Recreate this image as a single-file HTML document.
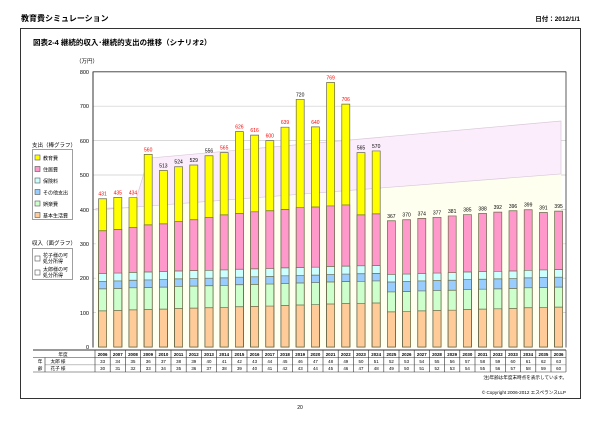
<!DOCTYPE html>
<html><head><meta charset="utf-8"><style>
html,body{margin:0;padding:0;background:#fff}
svg{display:block}
text{font-family:"Liberation Sans","Noto Sans CJK JP",sans-serif;fill:#000}
.b rect{vector-effect:non-scaling-stroke;stroke:#6b6b4a;stroke-width:0.7}
</style></head><body>
<svg width="600" height="424" viewBox="0 0 600 424" xmlns="http://www.w3.org/2000/svg">
<rect width="600" height="424" fill="#fff"/>
<text x="21" y="21" font-size="8" font-weight="bold">教育費シミュレーション</text>
<text x="580" y="21" font-size="6.5" text-anchor="end" font-weight="bold">日付：2012/1/1</text>
<rect x="20.5" y="28.5" width="560" height="370" fill="none" stroke="#333" stroke-width="1"/>
<text x="33" y="45" font-size="7.5" font-weight="bold">図表2-4  継続的収入･継続的支出の推移（シナリオ2）</text>
<text x="76" y="63" font-size="5.5">（万円）</text>
<g font-size="5.5" text-anchor="end">
<text x="89" y="74">800</text><text x="89" y="108">700</text><text x="89" y="143">600</text>
<text x="89" y="177">500</text><text x="89" y="212">400</text><text x="89" y="246">300</text>
<text x="89" y="280">200</text><text x="89" y="315">100</text><text x="89" y="349">0</text>
</g>
<g stroke="#ccc" stroke-width="0.7">
<line x1="93" x2="566" y1="106.2" y2="106.2"/><line x1="93" x2="566" y1="140.6" y2="140.6"/>
<line x1="93" x2="566" y1="175" y2="175"/><line x1="93" x2="566" y1="209.4" y2="209.4"/>
<line x1="93" x2="566" y1="243.8" y2="243.8"/><line x1="93" x2="566" y1="278.2" y2="278.2"/>
<line x1="93" x2="566" y1="312.6" y2="312.6"/>
</g>
<g transform="translate(0,347) scale(1,-0.344)">
<polygon points="96,0 96,398 561,503 561,0" fill="#fffff0"/>
<polygon points="96,398 561,503 561,657 148.6,549 133.4,405 96,403" fill="#fcedfc" stroke="#d8c8d8" stroke-width="0.7" vector-effect="non-scaling-stroke"/>
<g class="b">
<g transform="translate(98.6,0)"><rect width="8" height="431" fill="#ff0"/><rect width="8" height="338" fill="#f9c"/><rect width="8" height="214" fill="#cff"/><rect width="8" height="191" fill="#9cf"/><rect width="8" height="169" fill="#cfc"/><rect width="8" height="105" fill="#fc9"/></g>
<g transform="translate(113.8,0)"><rect width="8" height="435" fill="#ff0"/><rect width="8" height="342" fill="#f9c"/><rect width="8" height="215" fill="#cff"/><rect width="8" height="192" fill="#9cf"/><rect width="8" height="170" fill="#cfc"/><rect width="8" height="106" fill="#fc9"/></g>
<g transform="translate(129,0)"><rect width="8" height="434" fill="#ff0"/><rect width="8" height="347" fill="#f9c"/><rect width="8" height="217" fill="#cff"/><rect width="8" height="194" fill="#9cf"/><rect width="8" height="172" fill="#cfc"/><rect width="8" height="108" fill="#fc9"/></g>
<g transform="translate(144.2,0)"><rect width="8" height="560" fill="#ff0"/><rect width="8" height="355" fill="#f9c"/><rect width="8" height="218" fill="#cff"/><rect width="8" height="195" fill="#9cf"/><rect width="8" height="173" fill="#cfc"/><rect width="8" height="109" fill="#fc9"/></g>
<g transform="translate(159.4,0)"><rect width="8" height="513" fill="#ff0"/><rect width="8" height="358" fill="#f9c"/><rect width="8" height="219" fill="#cff"/><rect width="8" height="196" fill="#9cf"/><rect width="8" height="174" fill="#cfc"/><rect width="8" height="110" fill="#fc9"/></g>
<g transform="translate(174.6,0)"><rect width="8" height="524" fill="#ff0"/><rect width="8" height="365" fill="#f9c"/><rect width="8" height="221" fill="#cff"/><rect width="8" height="198" fill="#9cf"/><rect width="8" height="176" fill="#cfc"/><rect width="8" height="112" fill="#fc9"/></g>
<g transform="translate(189.8,0)"><rect width="8" height="529" fill="#ff0"/><rect width="8" height="370" fill="#f9c"/><rect width="8" height="222" fill="#cff"/><rect width="8" height="199" fill="#9cf"/><rect width="8" height="177" fill="#cfc"/><rect width="8" height="113" fill="#fc9"/></g>
<g transform="translate(205,0)"><rect width="8" height="556" fill="#ff0"/><rect width="8" height="377" fill="#f9c"/><rect width="8" height="223" fill="#cff"/><rect width="8" height="200" fill="#9cf"/><rect width="8" height="178" fill="#cfc"/><rect width="8" height="114" fill="#fc9"/></g>
<g transform="translate(220.2,0)"><rect width="8" height="565" fill="#ff0"/><rect width="8" height="384" fill="#f9c"/><rect width="8" height="224" fill="#cff"/><rect width="8" height="201" fill="#9cf"/><rect width="8" height="179" fill="#cfc"/><rect width="8" height="115" fill="#fc9"/></g>
<g transform="translate(235.4,0)"><rect width="8" height="626" fill="#ff0"/><rect width="8" height="388" fill="#f9c"/><rect width="8" height="226" fill="#cff"/><rect width="8" height="203" fill="#9cf"/><rect width="8" height="181" fill="#cfc"/><rect width="8" height="117" fill="#fc9"/></g>
<g transform="translate(250.6,0)"><rect width="8" height="616" fill="#ff0"/><rect width="8" height="393" fill="#f9c"/><rect width="8" height="227" fill="#cff"/><rect width="8" height="204" fill="#9cf"/><rect width="8" height="182" fill="#cfc"/><rect width="8" height="118" fill="#fc9"/></g>
<g transform="translate(265.8,0)"><rect width="8" height="600" fill="#ff0"/><rect width="8" height="396" fill="#f9c"/><rect width="8" height="228" fill="#cff"/><rect width="8" height="205" fill="#9cf"/><rect width="8" height="183" fill="#cfc"/><rect width="8" height="119" fill="#fc9"/></g>
<g transform="translate(281,0)"><rect width="8" height="639" fill="#ff0"/><rect width="8" height="400" fill="#f9c"/><rect width="8" height="230" fill="#cff"/><rect width="8" height="207" fill="#9cf"/><rect width="8" height="185" fill="#cfc"/><rect width="8" height="121" fill="#fc9"/></g>
<g transform="translate(296.2,0)"><rect width="8" height="720" fill="#ff0"/><rect width="8" height="405" fill="#f9c"/><rect width="8" height="231" fill="#cff"/><rect width="8" height="208" fill="#9cf"/><rect width="8" height="186" fill="#cfc"/><rect width="8" height="122" fill="#fc9"/></g>
<g transform="translate(311.4,0)"><rect width="8" height="640" fill="#ff0"/><rect width="8" height="407" fill="#f9c"/><rect width="8" height="232" fill="#cff"/><rect width="8" height="209" fill="#9cf"/><rect width="8" height="187" fill="#cfc"/><rect width="8" height="123" fill="#fc9"/></g>
<g transform="translate(326.6,0)"><rect width="8" height="769" fill="#ff0"/><rect width="8" height="410" fill="#f9c"/><rect width="8" height="234" fill="#cff"/><rect width="8" height="211" fill="#9cf"/><rect width="8" height="189" fill="#cfc"/><rect width="8" height="125" fill="#fc9"/></g>
<g transform="translate(341.8,0)"><rect width="8" height="706" fill="#ff0"/><rect width="8" height="413" fill="#f9c"/><rect width="8" height="235" fill="#cff"/><rect width="8" height="212" fill="#9cf"/><rect width="8" height="190" fill="#cfc"/><rect width="8" height="126" fill="#fc9"/></g>
<g transform="translate(357,0)"><rect width="8" height="565" fill="#ff0"/><rect width="8" height="384" fill="#f9c"/><rect width="8" height="236" fill="#cff"/><rect width="8" height="213" fill="#9cf"/><rect width="8" height="191" fill="#cfc"/><rect width="8" height="127" fill="#fc9"/></g>
<g transform="translate(372.2,0)"><rect width="8" height="570" fill="#ff0"/><rect width="8" height="387" fill="#f9c"/><rect width="8" height="237" fill="#cff"/><rect width="8" height="214" fill="#9cf"/><rect width="8" height="192" fill="#cfc"/><rect width="8" height="128" fill="#fc9"/></g>
<g transform="translate(387.4,0)"><rect width="8" height="367" fill="#f9c"/><rect width="8" height="211" fill="#cff"/><rect width="8" height="189" fill="#9cf"/><rect width="8" height="160" fill="#cfc"/><rect width="8" height="102" fill="#fc9"/></g>
<g transform="translate(402.6,0)"><rect width="8" height="370" fill="#f9c"/><rect width="8" height="212" fill="#cff"/><rect width="8" height="190" fill="#9cf"/><rect width="8" height="161" fill="#cfc"/><rect width="8" height="103" fill="#fc9"/></g>
<g transform="translate(417.8,0)"><rect width="8" height="374" fill="#f9c"/><rect width="8" height="214" fill="#cff"/><rect width="8" height="192" fill="#9cf"/><rect width="8" height="163" fill="#cfc"/><rect width="8" height="105" fill="#fc9"/></g>
<g transform="translate(433,0)"><rect width="8" height="377" fill="#f9c"/><rect width="8" height="215" fill="#cff"/><rect width="8" height="193" fill="#9cf"/><rect width="8" height="164" fill="#cfc"/><rect width="8" height="106" fill="#fc9"/></g>
<g transform="translate(448.2,0)"><rect width="8" height="381" fill="#f9c"/><rect width="8" height="216" fill="#cff"/><rect width="8" height="194" fill="#9cf"/><rect width="8" height="165" fill="#cfc"/><rect width="8" height="107" fill="#fc9"/></g>
<g transform="translate(463.4,0)"><rect width="8" height="385" fill="#f9c"/><rect width="8" height="218" fill="#cff"/><rect width="8" height="196" fill="#9cf"/><rect width="8" height="167" fill="#cfc"/><rect width="8" height="109" fill="#fc9"/></g>
<g transform="translate(478.6,0)"><rect width="8" height="388" fill="#f9c"/><rect width="8" height="219" fill="#cff"/><rect width="8" height="197" fill="#9cf"/><rect width="8" height="168" fill="#cfc"/><rect width="8" height="110" fill="#fc9"/></g>
<g transform="translate(493.8,0)"><rect width="8" height="392" fill="#f9c"/><rect width="8" height="220" fill="#cff"/><rect width="8" height="198" fill="#9cf"/><rect width="8" height="169" fill="#cfc"/><rect width="8" height="111" fill="#fc9"/></g>
<g transform="translate(509,0)"><rect width="8" height="396" fill="#f9c"/><rect width="8" height="221" fill="#cff"/><rect width="8" height="199" fill="#9cf"/><rect width="8" height="170" fill="#cfc"/><rect width="8" height="112" fill="#fc9"/></g>
<g transform="translate(524.2,0)"><rect width="8" height="399" fill="#f9c"/><rect width="8" height="223" fill="#cff"/><rect width="8" height="201" fill="#9cf"/><rect width="8" height="172" fill="#cfc"/><rect width="8" height="114" fill="#fc9"/></g>
<g transform="translate(539.4,0)"><rect width="8" height="391" fill="#f9c"/><rect width="8" height="224" fill="#cff"/><rect width="8" height="202" fill="#9cf"/><rect width="8" height="173" fill="#cfc"/><rect width="8" height="115" fill="#fc9"/></g>
<g transform="translate(554.6,0)"><rect width="8" height="395" fill="#f9c"/><rect width="8" height="225" fill="#cff"/><rect width="8" height="203" fill="#9cf"/><rect width="8" height="174" fill="#cfc"/><rect width="8" height="116" fill="#fc9"/></g>
</g>
</g>
<g fill="none" stroke="#333">
<line x1="93" y1="71.8" x2="566" y2="71.8" stroke-width="0.8"/>
<line x1="93" y1="71.5" x2="93" y2="347.5" stroke-width="1"/>
<line x1="566" y1="71.5" x2="566" y2="347.5" stroke-width="0.8"/>
</g>
<g font-size="5" text-anchor="middle">
<text x="102.6" y="195.7" style="fill:#f00">431</text>
<text x="117.8" y="194.4" style="fill:#f00">435</text>
<text x="133" y="194.7" style="fill:#f00">434</text>
<text x="148.2" y="151.4" style="fill:#f00">560</text>
<text x="163.4" y="167.5">513</text>
<text x="178.6" y="163.7">524</text>
<text x="193.8" y="162">529</text>
<text x="209" y="152.7">556</text>
<text x="224.2" y="149.6" style="fill:#f00">565</text>
<text x="239.4" y="128.7" style="fill:#f00">626</text>
<text x="254.6" y="132.1" style="fill:#f00">616</text>
<text x="269.8" y="137.6" style="fill:#f00">600</text>
<text x="285" y="124.2" style="fill:#f00">639</text>
<text x="300.2" y="96.3">720</text>
<text x="315.4" y="123.8" style="fill:#f00">640</text>
<text x="330.6" y="79.5" style="fill:#f00">769</text>
<text x="345.8" y="101.1" style="fill:#f00">706</text>
<text x="361" y="149.6">565</text>
<text x="376.2" y="147.9">570</text>
<text x="391.4" y="217.8">367</text>
<text x="406.6" y="216.7">370</text>
<text x="421.8" y="215.3">374</text>
<text x="437" y="214.3">377</text>
<text x="452.2" y="212.9">381</text>
<text x="467.4" y="211.6">385</text>
<text x="482.6" y="210.5">388</text>
<text x="497.8" y="209.1">392</text>
<text x="513" y="207.8">396</text>
<text x="528.2" y="206.7">399</text>
<text x="543.4" y="209.5">391</text>
<text x="558.6" y="208.1">395</text>
</g>
<!-- legends -->
<text x="32" y="147" font-size="5.5">支出（棒グラフ）</text>
<rect x="32.5" y="149.5" width="40" height="70" fill="#fff" stroke="#888" stroke-width="0.8"/>
<g stroke="#555" stroke-width="0.6">
<rect x="35" y="155" width="5" height="5" fill="#ff0"/>
<rect x="35" y="166.5" width="5" height="5" fill="#f9c"/>
<rect x="35" y="178" width="5" height="5" fill="#cff"/>
<rect x="35" y="189.5" width="5" height="5" fill="#9cf"/>
<rect x="35" y="201" width="5" height="5" fill="#cfc"/>
<rect x="35" y="212.5" width="5" height="5" fill="#fc9"/>
</g>
<g font-size="5">
<text x="43" y="160">教育費</text><text x="43" y="171.5">住居費</text><text x="43" y="183">保険料</text>
<text x="43" y="194.5">その他支出</text><text x="43" y="206">娯楽費</text><text x="43" y="217.5">基本生活費</text>
</g>
<text x="32" y="245" font-size="5.5">収入（面グラフ）</text>
<rect x="32.5" y="248.5" width="40" height="31" fill="#fff" stroke="#888" stroke-width="0.8"/>
<g stroke="#555" stroke-width="0.6" fill="#fff">
<rect x="35" y="256" width="5" height="5"/><rect x="35" y="270" width="5" height="5"/>
</g>
<g font-size="5">
<text x="43" y="257">花子様の可</text><text x="43" y="263">処分所得</text>
<text x="43" y="271">太郎様の可</text><text x="43" y="277">処分所得</text>
</g>
<!-- table -->
<g stroke="#333" stroke-width="0.6" fill="none">
<line x1="33" y1="350" x2="566" y2="350" stroke-width="1"/>
<line x1="33" y1="357.5" x2="566" y2="357.5"/>
<line x1="45" y1="364.8" x2="566" y2="364.8" stroke="#999"/>
<line x1="33" y1="372" x2="566" y2="372"/>
<line x1="95" y1="350" x2="95" y2="372"/>
<line x1="45" y1="357.5" x2="45" y2="372"/>
<line x1="566" y1="350" x2="566" y2="372"/>
<path d="M110.2 350V372M125.4 350V372M140.6 350V372M155.8 350V372M171 350V372M186.2 350V372M201.4 350V372M216.6 350V372M231.8 350V372M247 350V372M262.2 350V372M277.4 350V372M292.6 350V372M307.8 350V372M323 350V372M338.2 350V372M353.4 350V372M368.6 350V372M383.8 350V372M399 350V372M414.2 350V372M429.4 350V372M444.6 350V372M459.8 350V372M475 350V372M490.2 350V372M505.4 350V372M520.6 350V372M535.8 350V372M551 350V372"/>
</g>
<g font-size="4.6" text-anchor="middle">
<text x="63" y="356">年度</text>
<text x="40" y="363">年</text><text x="40" y="370">齢</text>
<text x="58" y="363">太郎 様</text><text x="58" y="370">花子 様</text>
</g>
<g font-size="4.4" text-anchor="middle" font-weight="bold">
<text x="102.6" y="356">2006</text><text x="117.8" y="356">2007</text><text x="133" y="356">2008</text><text x="148.2" y="356">2009</text><text x="163.4" y="356">2010</text><text x="178.6" y="356">2011</text><text x="193.8" y="356">2012</text><text x="209" y="356">2013</text><text x="224.2" y="356">2014</text><text x="239.4" y="356">2015</text><text x="254.6" y="356">2016</text><text x="269.8" y="356">2017</text><text x="285" y="356">2018</text><text x="300.2" y="356">2019</text><text x="315.4" y="356">2020</text><text x="330.6" y="356">2021</text><text x="345.8" y="356">2022</text><text x="361" y="356">2023</text><text x="376.2" y="356">2024</text><text x="391.4" y="356">2025</text><text x="406.6" y="356">2026</text><text x="421.8" y="356">2027</text><text x="437" y="356">2028</text><text x="452.2" y="356">2029</text><text x="467.4" y="356">2030</text><text x="482.6" y="356">2031</text><text x="497.8" y="356">2032</text><text x="513" y="356">2033</text><text x="528.2" y="356">2034</text><text x="543.4" y="356">2035</text><text x="558.6" y="356">2036</text>
</g>
<g font-size="4.4" text-anchor="middle">
<text x="102.6" y="363">33</text><text x="117.8" y="363">34</text><text x="133" y="363">35</text><text x="148.2" y="363">36</text><text x="163.4" y="363">37</text><text x="178.6" y="363">38</text><text x="193.8" y="363">39</text><text x="209" y="363">40</text><text x="224.2" y="363">41</text><text x="239.4" y="363">42</text><text x="254.6" y="363">43</text><text x="269.8" y="363">44</text><text x="285" y="363">45</text><text x="300.2" y="363">46</text><text x="315.4" y="363">47</text><text x="330.6" y="363">48</text><text x="345.8" y="363">49</text><text x="361" y="363">50</text><text x="376.2" y="363">51</text><text x="391.4" y="363">52</text><text x="406.6" y="363">53</text><text x="421.8" y="363">54</text><text x="437" y="363">55</text><text x="452.2" y="363">56</text><text x="467.4" y="363">57</text><text x="482.6" y="363">58</text><text x="497.8" y="363">59</text><text x="513" y="363">60</text><text x="528.2" y="363">61</text><text x="543.4" y="363">62</text><text x="558.6" y="363">63</text>
<text x="102.6" y="370">30</text><text x="117.8" y="370">31</text><text x="133" y="370">32</text><text x="148.2" y="370">33</text><text x="163.4" y="370">34</text><text x="178.6" y="370">35</text><text x="193.8" y="370">36</text><text x="209" y="370">37</text><text x="224.2" y="370">38</text><text x="239.4" y="370">39</text><text x="254.6" y="370">40</text><text x="269.8" y="370">41</text><text x="285" y="370">42</text><text x="300.2" y="370">43</text><text x="315.4" y="370">44</text><text x="330.6" y="370">45</text><text x="345.8" y="370">46</text><text x="361" y="370">47</text><text x="376.2" y="370">48</text><text x="391.4" y="370">49</text><text x="406.6" y="370">50</text><text x="421.8" y="370">51</text><text x="437" y="370">52</text><text x="452.2" y="370">53</text><text x="467.4" y="370">54</text><text x="482.6" y="370">55</text><text x="497.8" y="370">56</text><text x="513" y="370">57</text><text x="528.2" y="370">58</text><text x="543.4" y="370">59</text><text x="558.6" y="370">60</text>
</g>
<text x="567" y="379" font-size="4.6" text-anchor="end">注)年齢は年度末時点を表示しています。</text>
<text x="566" y="394" font-size="4.6" text-anchor="end">© Copyright 2006-2012 エスペランスLLP</text>
<text x="300" y="409" font-size="5" text-anchor="middle">20</text>
</svg>
</body></html>
